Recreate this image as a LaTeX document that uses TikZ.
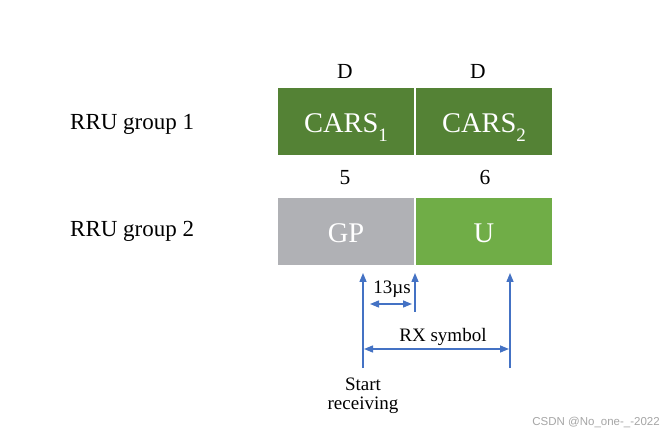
\documentclass[tikz,border=0pt]{standalone}
\usepackage{fontspec}
\setmainfont{Liberation Serif}
\newfontfamily\wmfont{Liberation Sans}
\usetikzlibrary{arrows.meta}
\definecolor{dgreen}{HTML}{548235}
\definecolor{lgreen}{HTML}{70AD47}
\definecolor{gpgray}{HTML}{B0B1B5}
\definecolor{arrblue}{HTML}{4472C4}
\tikzset{
  slot/.style={minimum width=136pt, minimum height=67pt, inner sep=0pt, text height=23pt, text depth=0pt, text=white, font=\fontsize{28.5}{30}\selectfont},
  lbl/.style={inner sep=0pt, anchor=base, font=\fontsize{21.5}{24}\selectfont},
  grp/.style={inner sep=0pt, anchor=base west, font=\fontsize{23}{26}\selectfont},
  small/.style={inner sep=0pt, anchor=base, font=\fontsize{19}{22}\selectfont},
  arr/.style={draw=arrblue, line width=1.4pt, -{Triangle[length=9pt,width=7pt]}},
  darr/.style={draw=arrblue, line width=1.4pt, {Triangle[length=9pt,width=7pt]}-{Triangle[length=9pt,width=7pt]}}
}
\newcommand{\subnum}[1]{\raisebox{-0.3em}{\fontsize{19}{20}\selectfont #1}}
\begin{document}
\begin{tikzpicture}[x=1pt,y=1pt]
\useasboundingbox[fill=white] (0,0) rectangle (666,439);
% boxes
\node[slot, fill=dgreen] (c1) at (346,317.5) {CARS\subnum{1}};
\node[slot, fill=dgreen] (c2) at (484,317.5) {CARS\subnum{2}};
\node[slot, fill=gpgray] (gp) at (346,207.5) {GP};
\node[slot, fill=lgreen] (u) at (484,207.5) {U};
% labels
\node[lbl] (d1) at (345,360.5) {D};
\node[lbl] (d2) at (478,360.5) {D};
\node[lbl] (n5) at (345,254) {5};
\node[lbl] (n6) at (485,254) {6};
\node[grp] (g1) at (70,309.7) {RRU group 1};
\node[grp] (g2) at (70,202.3) {RRU group 2};
% arrow coordinates
\coordinate (a1b) at (363,71);
\coordinate (a1t) at (363,166);
\coordinate (a2b) at (415,127);
\coordinate (a2t) at (415,166);
\coordinate (a3b) at (510,71);
\coordinate (a3t) at (510,166);
\coordinate (m1) at (370,135);
\coordinate (m2) at (412,135);
\coordinate (r1) at (364,90);
\coordinate (r2) at (509,90);
\draw[arr] (a1b) -- (a1t);
\draw[arr] (a2b) -- (a2t);
\draw[arr] (a3b) -- (a3t);
\draw[darr] (m1) -- (m2);
\draw[darr] (r1) -- (r2);
\node[small] (t13) at (392,145.7) {13µs};
\node[small] (rx) at (443,97.3) {RX symbol};
\node[small] (st) at (363,48.3) {Start};
\node[small] (rc) at (363,29.7) {receiving};
\node[inner sep=0pt, anchor=east, text=black!35, font=\wmfont\fontsize{11.5}{12}\selectfont] (wm) at (660,17) {CSDN @No\_one-\_-2022};
\end{tikzpicture}
\end{document}
